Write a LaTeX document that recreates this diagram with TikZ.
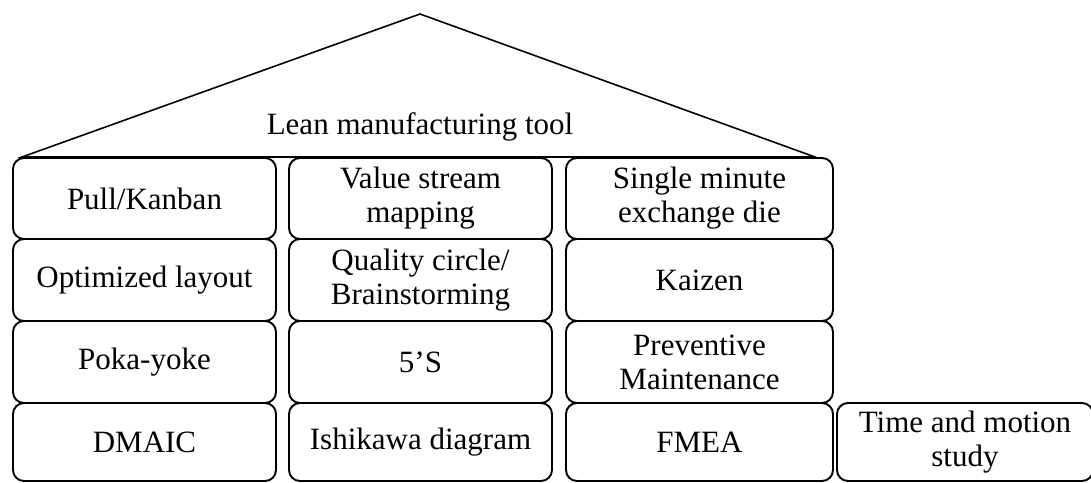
\documentclass[tikz,border=0pt]{standalone}
\usepackage{fontspec}
\setmainfont{Liberation Serif}
\begin{document}
\begin{tikzpicture}[x=1pt,y=-1pt,
  line width=1.9pt,
  labelfont/.style={font=\fontsize{31}{34}\selectfont},
  toolbox/.style={draw=black, rounded corners=11pt, align=center,
    inner sep=0pt, outer sep=0pt, labelfont},
  roofline/.style={draw=black, line width=1.6pt, line join=miter}
]
\useasboundingbox (0,0) rectangle (1091,482);

% roof of the house
\coordinate (roofL) at (22,157);
\coordinate (apex) at (420,14);
\coordinate (roofR) at (815,157);
\draw[roofline] (roofL) -- (apex) -- (roofR) -- cycle;
\node[labelfont] (title) at (420,127) {Lean manufacturing tool};

% row 1
\node[toolbox, minimum width=263pt, minimum height=81pt] (pull) at (144.5,198.5) {Pull/Kanban};
\node[toolbox, minimum width=263pt, minimum height=81pt] (vsm) at (420.5,198.5) {Value stream\\mapping};
\node[toolbox, minimum width=267pt, minimum height=81pt] (smed) at (699.5,198.5) {Single minute\\exchange die};

% row 2
\node[toolbox, minimum width=263pt, minimum height=82pt] (layout) at (144.5,280) {Optimized layout};
\node[toolbox, minimum width=263pt, minimum height=82pt] (qc) at (420.5,280) {Quality circle/\\Brainstorming};
\node[toolbox, minimum width=267pt, minimum height=82pt] (kaizen) at (699.5,280) {Kaizen};

% row 3
\node[toolbox, minimum width=263pt, minimum height=82pt] (poka) at (144.5,362) {Poka-yoke};
\node[toolbox, minimum width=263pt, minimum height=82pt] (fives) at (420.5,362) {5’S};
\node[toolbox, minimum width=267pt, minimum height=82pt] (pm) at (699.5,362) {Preventive\\Maintenance};

% row 4
\node[toolbox, minimum width=263pt, minimum height=78pt] (dmaic) at (144.5,442) {DMAIC};
\node[toolbox, minimum width=263pt, minimum height=78pt] (ishi) at (420.5,442) {Ishikawa diagram};
\node[toolbox, minimum width=267pt, minimum height=78pt] (fmea) at (699.5,442) {FMEA};
\node[toolbox, minimum width=256pt, minimum height=78pt] (tms) at (965,442) {Time and motion\\study};
\end{tikzpicture}
\end{document}
